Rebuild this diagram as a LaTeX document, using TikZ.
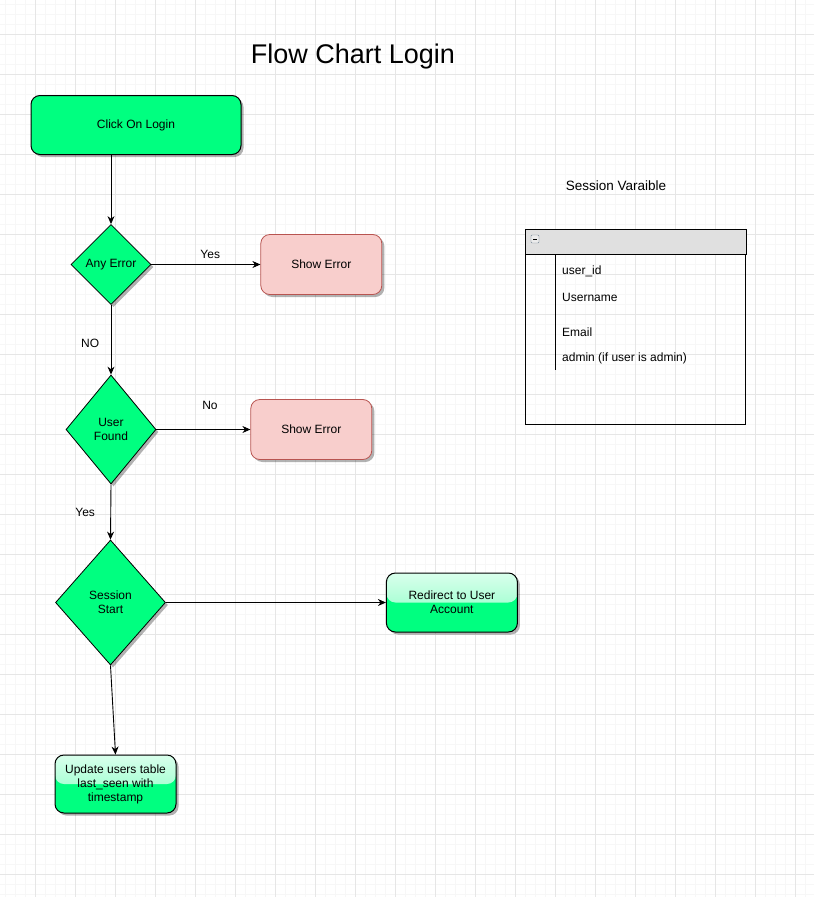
\documentclass[tikz,border=0pt]{standalone}
\usepackage{fontspec}
\setmainfont{Liberation Sans}
\usetikzlibrary{arrows.meta, positioning, shapes.geometric, shadows}

\definecolor{boxgreen}{RGB}{0,255,128}
\definecolor{errfill}{RGB}{248,206,204}
\definecolor{errline}{RGB}{184,84,80}
\definecolor{gridmajor}{RGB}{230,230,230}
\definecolor{gridminor}{RGB}{247,247,247}
\definecolor{hdrfill}{RGB}{224,224,224}
\definecolor{iconline}{RGB}{120,135,150}

\begin{document}
\begin{tikzpicture}[
    x=1pt, y=-1pt,
    every node/.style={font=\fontsize{12}{14}\selectfont},
    boxshadow/.style={
        drop shadow={shadow xshift=2.5pt, shadow yshift=-2.5pt,
                     opacity=0.3, fill=black}
    },
    startbox/.style={
        rectangle, draw, line width=1pt, rounded corners=9pt,
        fill=boxgreen, boxshadow,
        minimum width=210pt, minimum height=59pt
    },
    decision/.style={
        diamond, draw, line width=0.8pt, fill=boxgreen, boxshadow,
        inner sep=0pt, align=center
    },
    errbox/.style={
        rectangle, draw=errline, line width=0.8pt, rounded corners=9pt,
        fill=errfill, boxshadow,
        minimum width=121pt, minimum height=60pt
    },
    glossbox/.style={
        rectangle, draw, line width=1pt, rounded corners=9pt,
        fill=boxgreen, boxshadow, align=center,
        path picture={
            \shade[top color=boxgreen!15!white, bottom color=boxgreen!50!white]
              (path picture bounding box.north west)
              rectangle (path picture bounding box.east);
        }
    },
    varline/.style={anchor=west, inner sep=0pt},
    arr/.style={-{Stealth[length=8pt, width=7pt]}, line width=0.9pt},
]
\useasboundingbox (0,0) rectangle (814,897);
\fill[white] (0,0) rectangle (814,897);
\foreach \gx in {0,...,80}
  \draw[gridminor, line width=0.6pt] ({5.7+10*\gx},0) -- ({5.7+10*\gx},897);
\foreach \gy in {0,...,89}
  \draw[gridminor, line width=0.6pt] (0,{4.3+10*\gy}) -- (814,{4.3+10*\gy});
\foreach \gx in {0,...,19}
  \draw[gridmajor, line width=1pt] ({35.7+40*\gx},0) -- ({35.7+40*\gx},897);
\foreach \gy in {0,...,21}
  \draw[gridmajor, line width=1pt] (0,{34.3+40*\gy}) -- (814,{34.3+40*\gy});

\node[font=\fontsize{27}{32}\selectfont] (title) at (353,57) {Flow Chart Login};

\node[startbox] (click) at (136,125) {Click On Login};
\node[decision, minimum width=80pt, minimum height=80pt] (any) at (111,264.5) {Any Error};
\node[errbox, right=109pt of any] (err1) {Show Error};
\node[decision, minimum width=90pt, minimum height=109pt] (found) at (111,429.5) {User\\Found};
\node[errbox, right=94pt of found] (err2) {Show Error};
\node[decision, minimum width=110pt, minimum height=125pt] (sess) at (110.5,602.5) {Session\\Start};
\node[glossbox, minimum width=131pt, minimum height=59pt, right=220pt of sess] (redir)
    {Redirect to User\\Account};
\node[glossbox, minimum width=121pt, minimum height=58pt] (upd) at (115.5,784)
    {Update users table\\last\_seen with\\timestamp};

\draw[arr] (click.south -| any.north) -- (any.north);
\draw[arr] (any.east) -- node[above=2pt, pos=0.54] {Yes} (err1.west);
\draw[arr] (any.south) -- node[left=8pt, pos=0.55] {NO} (found.north);
\draw[arr] (found.east) -- node[above=16pt, pos=0.57] {No} (err2.west);
\draw[arr] (found.south) -- node[left=12pt] {Yes} (sess.north);
\draw[arr] (sess.east) -- (redir.west);
\draw[arr] (sess.south) -- (upd.north);

\node[font=\fontsize{13.5}{16}\selectfont] (vtitle) at (616,186) {Session Varaible};
\node[draw, line width=1pt, minimum width=220pt, minimum height=194pt, inner sep=0pt] (vars)
    at (635.5,327) {};
\filldraw[fill=hdrfill, line width=1pt] (vars.north west) rectangle ([yshift=-25pt]vars.north east);
\draw[iconline, fill=gray!15, rounded corners=1pt] (531,235) rectangle (539,243);
\draw[line width=0.9pt] (533,239) -- (537,239);
\draw[line width=0.9pt] (555.5,255) -- (555.5,369.5);
\node[varline] (uid) at (562,271.5) {user\_id};
\node[varline] (uname) at (562,297) {Username};
\node[varline] (email) at (562,332.5) {Email};
\node[varline] (admin) at (562,358.5) {admin (if user is admin)};
\end{tikzpicture}
\end{document}
